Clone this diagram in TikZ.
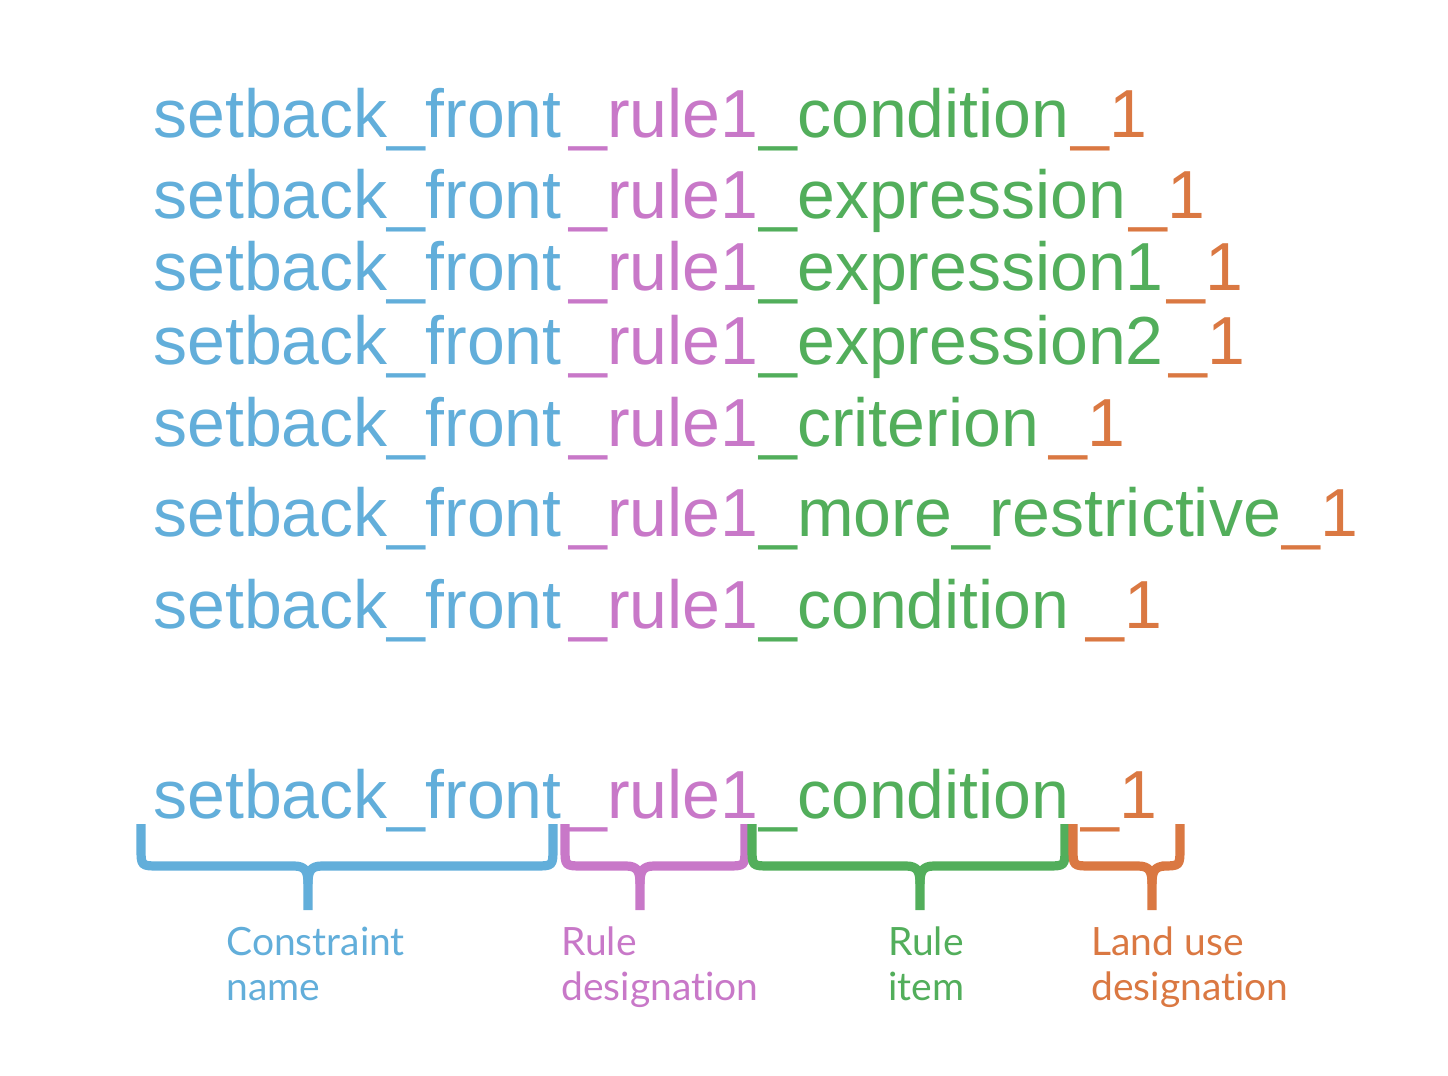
\documentclass[tikz,border=0pt]{standalone}
\usepackage{fontspec}
\setmainfont{Liberation Sans}
\newfontfamily\labelfont[Ligatures=NoCommon]{Lato}

\definecolor{cname}{HTML}{62AEDA}
\definecolor{rulecol}{HTML}{C878C8}
\definecolor{itemcol}{HTML}{52AE5B}
\definecolor{usecol}{HTML}{DA7842}

\tikzset{
  seg/.style={anchor=base west, inner sep=0pt, font=\fontsize{34}{40}\selectfont},
  tag/.style={anchor=base west, inner sep=0pt, align=left, font=\labelfont\fontsize{19.5}{22.5}\selectfont},
  curly/.style={line width=4.6pt, line join=round},
}

% brace under a part of the name: colour, left end, right end, tip
\newcommand{\segbrace}[4]{%
  \draw[curly,#1] (#2,824) -- (#2,848) .. controls (#2,866) .. (#2+18,866) -- (#4-14,866)
    .. controls (#4-2,866) and (#4,872) .. (#4,884) -- (#4,910);
  \draw[curly,#1] (#3,824) -- (#3,848) .. controls (#3,866) .. (#3-18,866) -- (#4+14,866)
    .. controls (#4+2,866) and (#4,872) .. (#4,884);
}

\begin{document}
\begin{tikzpicture}[x=0.5pt, y=-0.5pt]
\useasboundingbox (0,0) rectangle (1448,1076);

% the seven names
\foreach \y/\item/\gap [count=\i] in {137/condition/1, 218/expression/3,
    290/expression1/3, 364/expression2/5, 446/criterion/10,
    536/more\_restrictive/1, 628/condition/16} {
  \node[seg, cname] (name\i) at (153,\y) {setback\_front};
  \node[seg, rulecol] (rule\i) at (569,\y) {\_rule1};
  \node[seg, itemcol] (item\i) at (759,\y) {\_\item};
  \node[seg, usecol] (use\i) at ([xshift=\gap*0.5pt]item\i.base east) {\_1};
}

% the name taken apart
\node[seg, cname] (name) at (153,818) {setback\_front};
\node[seg, rulecol] (rule) at (569,818) {\_rule1};
\node[seg, itemcol] (item) at (759,818) {\_condition};
\node[seg, usecol] (use) at ([xshift=5.5pt]item.base east) {\_1};

\segbrace{cname}{141}{553}{308}
\segbrace{rulecol}{565}{745}{640}
\segbrace{itemcol}{752}{1065}{920}
\segbrace{usecol}{1073}{1180}{1152}

\node[tag, cname] (cname lbl) at (226,1000) {Constraint\\name};
\node[tag, rulecol] (rule lbl) at (561,1000) {Rule\\designation};
\node[tag, itemcol] (item lbl) at (888,1000) {Rule\\item};
\node[tag, usecol] (use lbl) at (1091,1000) {Land use\\designation};
\end{tikzpicture}
\end{document}
